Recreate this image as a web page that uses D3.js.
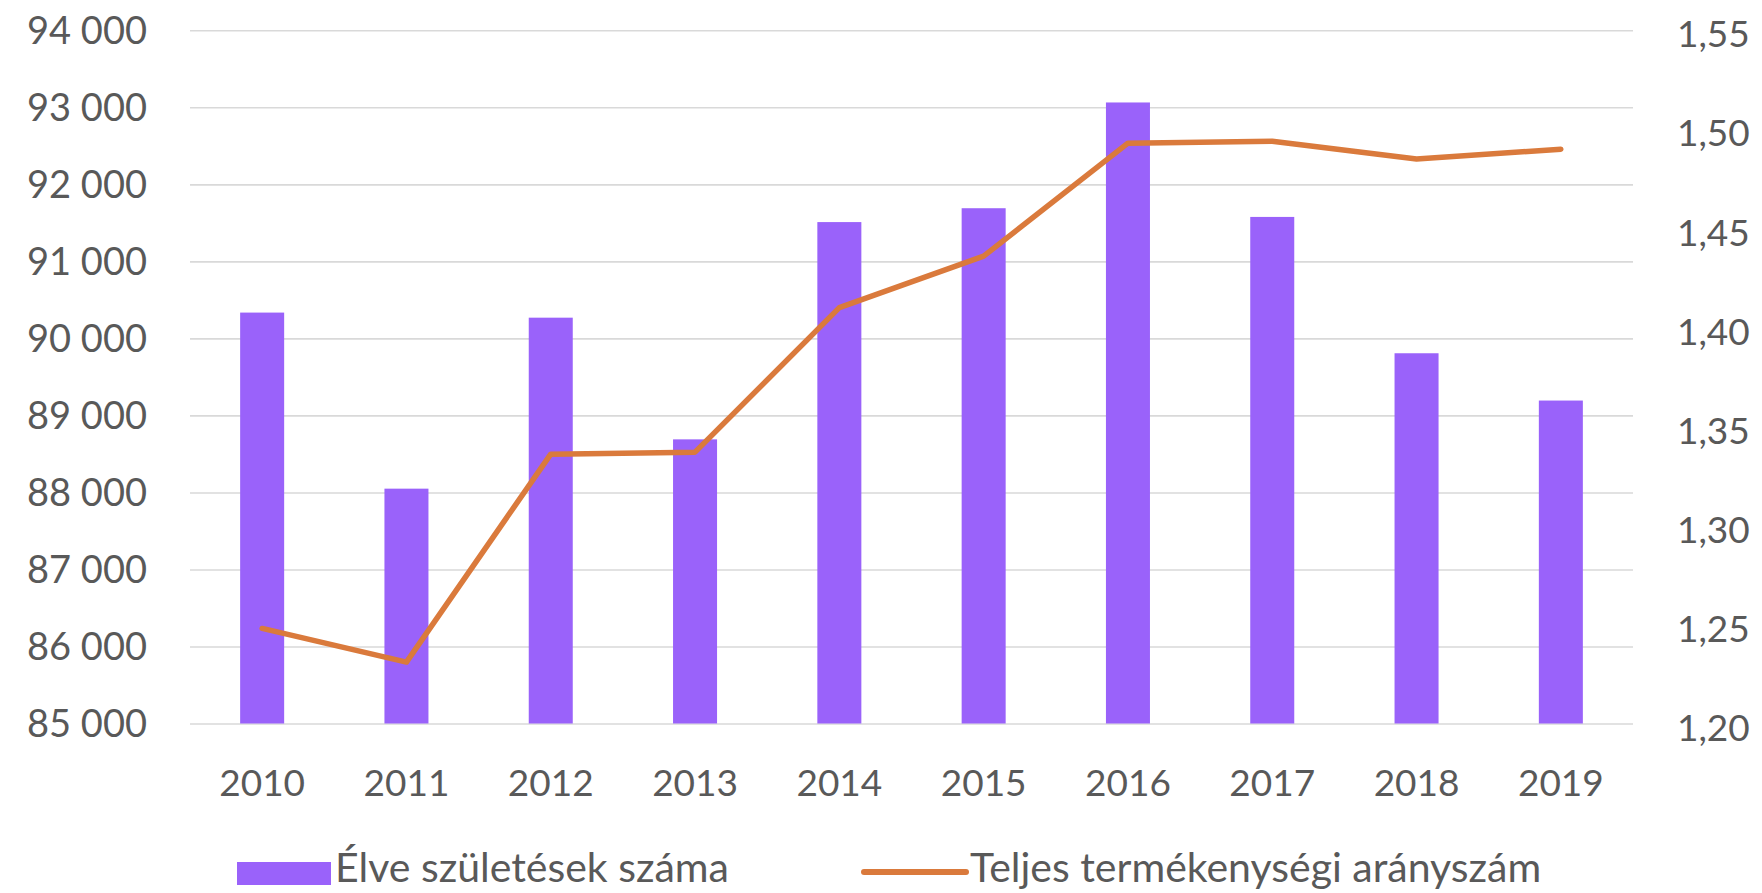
<!DOCTYPE html>
<html>
<head>
<meta charset="utf-8">
<script src="https://cdn.jsdelivr.net/npm/d3@7"></script>
<style>
html,body{margin:0;padding:0;background:#fff;}
svg{display:block;}
text{font-family:Lato, "Open Sans", sans-serif;fill:#595959;}
</style>
</head>
<body>
<svg id="chart" width="1762" height="893"></svg>
<script>
const years = ["2010","2011","2012","2013","2014","2015","2016","2017","2018","2019"];
const births = [90335, 88049, 90269, 88689, 91510, 91690, 93063, 91577, 89807, 89193];
const tfr = [1.248, 1.231, 1.336, 1.337, 1.410, 1.436, 1.493, 1.494, 1.485, 1.490];
const leftTicks = [85000, 86000, 87000, 88000, 89000, 90000, 91000, 92000, 93000, 94000];
const rightTicks = [1.20, 1.25, 1.30, 1.35, 1.40, 1.45, 1.50, 1.55];
const seriesNames = ["Élve születések száma", "Teljes termékenységi arányszám"];

const barColor = "#9A62FA";
const lineColor = "#DA7A3C";

const svg = d3.select("#chart");
const plotLeft = 190, plotRight = 1633, plotTop = 30.3, plotBottom = 723.5;

const x = d3.scaleBand().domain(years).range([plotLeft, plotRight]).paddingInner(0.695).paddingOuter(0.3475);
const yL = d3.scaleLinear().domain([85000, 94000]).range([plotBottom, plotTop]);
const yR = d3.scaleLinear().domain([1.20, 1.55]).range([plotBottom, plotTop]);

// gridlines
const gridAxis = d3.axisLeft(yL).tickValues(leftTicks).tickSize(-(plotRight - plotLeft)).tickFormat("");
const grid = svg.append("g").attr("transform", `translate(${plotLeft},0)`).call(gridAxis);
grid.select(".domain").remove();
grid.selectAll(".tick line").attr("stroke", "#d9d9d9").attr("stroke-width", 1.6);

// left axis labels
const fmtL = d => d3.format(",")(d).replace(",", " ");
const leftAxis = d3.axisLeft(yL).tickValues(leftTicks).tickSize(0).tickPadding(0).tickFormat(fmtL);
const gl = svg.append("g").attr("transform", `translate(147,0)`).call(leftAxis);
gl.select(".domain").remove();
gl.selectAll("text").attr("font-size", 38).attr("font-family", "Lato").attr("fill", "#595959").attr("dy", "0.35em");

// right axis labels
const fmtR = d => d3.format(".2f")(d).replace(".", ",");
const rightAxis = d3.axisRight(yR).tickValues(rightTicks).tickSize(0).tickPadding(0).tickFormat(fmtR);
const gr = svg.append("g").attr("transform", `translate(1677,0)`).call(rightAxis);
gr.select(".domain").remove();
gr.selectAll("text").attr("font-size", 37).attr("font-family", "Lato").attr("fill", "#595959").attr("dy", "0.45em");

// bars
svg.append("g").selectAll("rect").data(years).join("rect")
  .attr("x", d => x(d))
  .attr("width", x.bandwidth())
  .attr("y", (d, i) => yL(births[i]))
  .attr("height", (d, i) => yL(85000) - yL(births[i]))
  .attr("fill", barColor);

// line
const line = d3.line().x((d, i) => x(years[i]) + x.bandwidth() / 2).y(d => yR(d));
svg.append("path").datum(tfr).attr("d", line)
  .attr("fill", "none").attr("stroke", lineColor).attr("stroke-width", 5.5)
  .attr("stroke-linejoin", "round").attr("stroke-linecap", "round");

// x axis labels
const xAxis = d3.axisBottom(x).tickSize(0).tickPadding(0);
const gx = svg.append("g").attr("transform", `translate(0,783)`).call(xAxis);
gx.select(".domain").remove();
gx.selectAll("text").attr("font-size", 37).attr("font-family", "Lato").attr("fill", "#595959").attr("dy", "0.35em");

// legend
const lg = svg.append("g");
lg.append("rect").attr("x", 237).attr("y", 862).attr("width", 94).attr("height", 23).attr("fill", barColor);
lg.append("text").attr("x", 335).attr("y", 882).attr("font-size", 41).text(seriesNames[0]);
lg.append("line").attr("x1", 864).attr("x2", 966).attr("y1", 872).attr("y2", 872)
  .attr("stroke", lineColor).attr("stroke-width", 6).attr("stroke-linecap", "round");
lg.append("text").attr("x", 970).attr("y", 882).attr("font-size", 41).text(seriesNames[1]);
</script>
</body>
</html>
